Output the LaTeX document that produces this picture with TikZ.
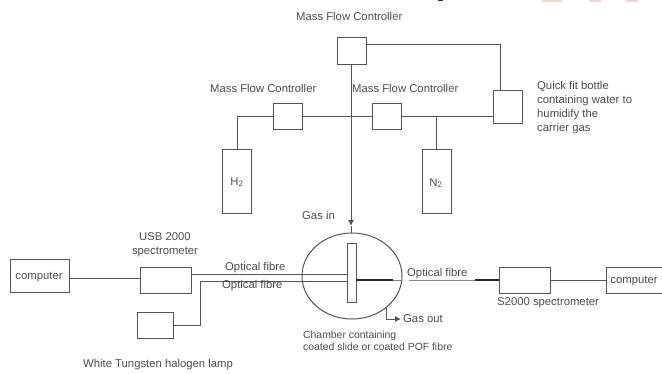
\documentclass[tikz,border=0pt]{standalone}
\usepackage{fontspec}
\setmainfont{Liberation Sans}
\usetikzlibrary{arrows.meta,shapes.geometric}
\definecolor{ln}{gray}{0.33}
\definecolor{tx}{gray}{0.3}
\definecolor{pinkish}{RGB}{240,215,212}
\tikzset{
  x=1pt,y=-1pt,
  box/.style={draw=ln,line width=0.9pt,inner sep=0pt,fill=white},
  wire/.style={draw=ln,line width=0.9pt},
  thinwire/.style={draw=ln!70,line width=0.7pt},
  darkwire/.style={draw=black!85,line width=1.1pt},
  lab/.style={text=tx,font=\fontsize{11.3}{14}\selectfont,inner sep=0pt,align=left},
}
\newcommand{\pbox}[5]{\node[box,minimum width=#4pt-#2pt,minimum height=#5pt-#3pt,anchor=north west] (#1) at (#2,#3) {};}
\begin{document}
\begin{tikzpicture}
\useasboundingbox (0,0) rectangle (662,373);
% cropped remnants along the top edge
\fill[pinkish] (542,0) rectangle (562,2) (589,0) rectangle (601,2) (626,0) rectangle (638,2);
\fill[black!80] (438,0) rectangle (443,1);
% junction and free-end coordinates
\coordinate (jH) at (237,116);
\coordinate (jC) at (351,116);
\coordinate (jN) at (436,116);
\coordinate (jT) at (500,44);
\coordinate (jL) at (200,325);
\coordinate (jF) at (200,281);
\coordinate (sL) at (347,274);
\coordinate (sL2) at (347,281);
\coordinate (ya) at (0,278);
\coordinate (yb) at (0,280);
\coordinate (ar) at (351,226);
\coordinate (rf1) at (393,280);
\coordinate (rf1b) at (401,280);
\coordinate (rf2) at (409,280);
\coordinate (rf3) at (475,280);
% chamber
\node[draw=ln,line width=1pt,ellipse,minimum width=100pt,minimum height=86pt,inner sep=0pt] (chamber) at (352,276) {};
% boxes
\pbox{mfctop}{337}{37}{366}{64}
\pbox{bottle}{493}{90}{522}{123}
\pbox{mfcl}{273}{103}{302}{129}
\pbox{mfcr}{372}{103}{401}{129}
\pbox{hyd}{222}{149}{251}{213}
\pbox{nit}{422}{149}{451}{213}
\pbox{compl}{10}{259}{69}{292}
\pbox{usb}{140}{267}{191}{293}
\pbox{lamp}{137}{312}{173}{338}
\pbox{stwo}{499}{267}{550}{293}
\pbox{compr}{606}{267}{670}{293}
\node[draw=ln,line width=0.9pt,fill=white,minimum width=9pt,minimum height=59pt,inner sep=0pt] (slide) at (351.5,272.5) {};
% connectors
\draw[wire] (mfctop.east |- jT) -- (jT) -- (bottle.north -| jT);
\draw[wire] (mfcl.west |- jH) -- (jH) -- (hyd.north -| jH);
\draw[wire] (mfcl.east |- jH) -- (mfcr.west |- jH);
\draw[wire] (mfcr.east |- jH) -- (bottle.west |- jH);
\draw[wire] (jN) -- (nit.north -| jN);
\draw[wire,-{Latex[length=6pt,width=6pt]}] (mfctop.south -| jC) -- (ar);
\draw[wire] (ar) -- (chamber.north -| jC);
\draw[wire] (compl.east |- ya) -- (usb.west |- ya);
\draw[wire] (usb.east |- sL) -- (sL);
\draw[wire] (jF) -- (sL2);
\draw[wire] (lamp.east |- jL) -- (jL) -- (jF);
\draw[darkwire] (slide.east |- yb) -- (rf1);
\draw[thinwire] (rf1) -- (rf1b);
\draw[thinwire] (rf2) -- (rf3);
\draw[darkwire] (rf3) -- (stwo.west |- yb);
\draw[wire] (stwo.east |- yb) -- (compr.west |- yb);
\coordinate (gasa) at (386,308);
\coordinate (gasb) at (386,319);
\coordinate (gasc) at (401,319);
\draw[wire,-{Latex[length=6pt,width=6pt]}] (gasa) -- (gasb) -- (gasc);
% labels
\node[lab,anchor=west] (t1) at (296,16.5) {Mass Flow Controller};
\node[lab,anchor=west] (t2) at (210,88) {Mass Flow Controller};
\node[lab,anchor=west] (t3) at (352,88) {Mass Flow Controller};
\node[lab,anchor=north west] (t4) at (537,81) {Quick fit bottle\\containing water to\\humidify the\\carrier gas};
\node[lab] (h2) at (237,182) {H\textsubscript{2}};
\node[lab] (n2) at (436,183) {N\textsubscript{2}};
\node[lab,anchor=west] (t5) at (302,215) {Gas in};
\node[lab,align=center] (t6) at (165,244.5) {USB 2000\\spectrometer};
\node[lab] (c1) at (39,277) {computer};
\node[lab,anchor=west] (t7) at (225,268) {Optical fibre};
\node[lab,anchor=west] (t8) at (222,286) {Optical fibre};
\node[lab,anchor=west] (t9) at (407,274) {Optical fibre};
\node[lab,anchor=west] (t10) at (497,303) {S2000 spectrometer};
\node[lab] (c2) at (634,281) {computer};
\node[lab,anchor=west] (t11) at (403,319) {Gas out};
\node[lab,anchor=north west,font=\fontsize{10.4}{12}\selectfont] (t12) at (303,331) {Chamber containing\\coated slide or coated POF fibre};
\node[lab,anchor=west] (t13) at (83,365) {White Tungsten halogen lamp};
\end{tikzpicture}
\end{document}
